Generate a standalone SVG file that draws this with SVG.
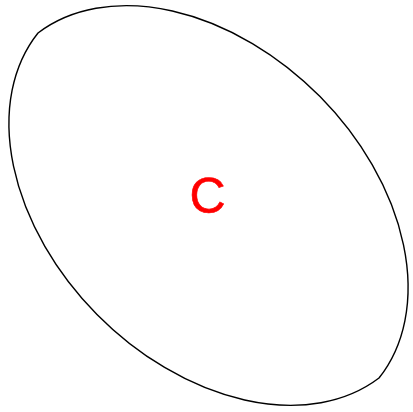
<svg xmlns="http://www.w3.org/2000/svg" width="413" height="412" viewBox="0 0 413 412">
<style>
.shape{fill:#fff;stroke:#000;stroke-width:1.4}
.lbl{font-family:"Liberation Sans",Arial,sans-serif;font-size:50px;fill:#f00;text-anchor:middle;stroke:#f00;stroke-width:0.6}
</style>
<rect width="413" height="412" fill="#fff"/>
<g id="node-C">
<path class="shape" d="M38,33 A243.5 171 45 0 1 379,378 A243.5 171 45 0 1 38,33 Z"/>
<text class="lbl" x="207.5" y="212.5">C</text>
</g>
<g id="connectors"/>
</svg>
